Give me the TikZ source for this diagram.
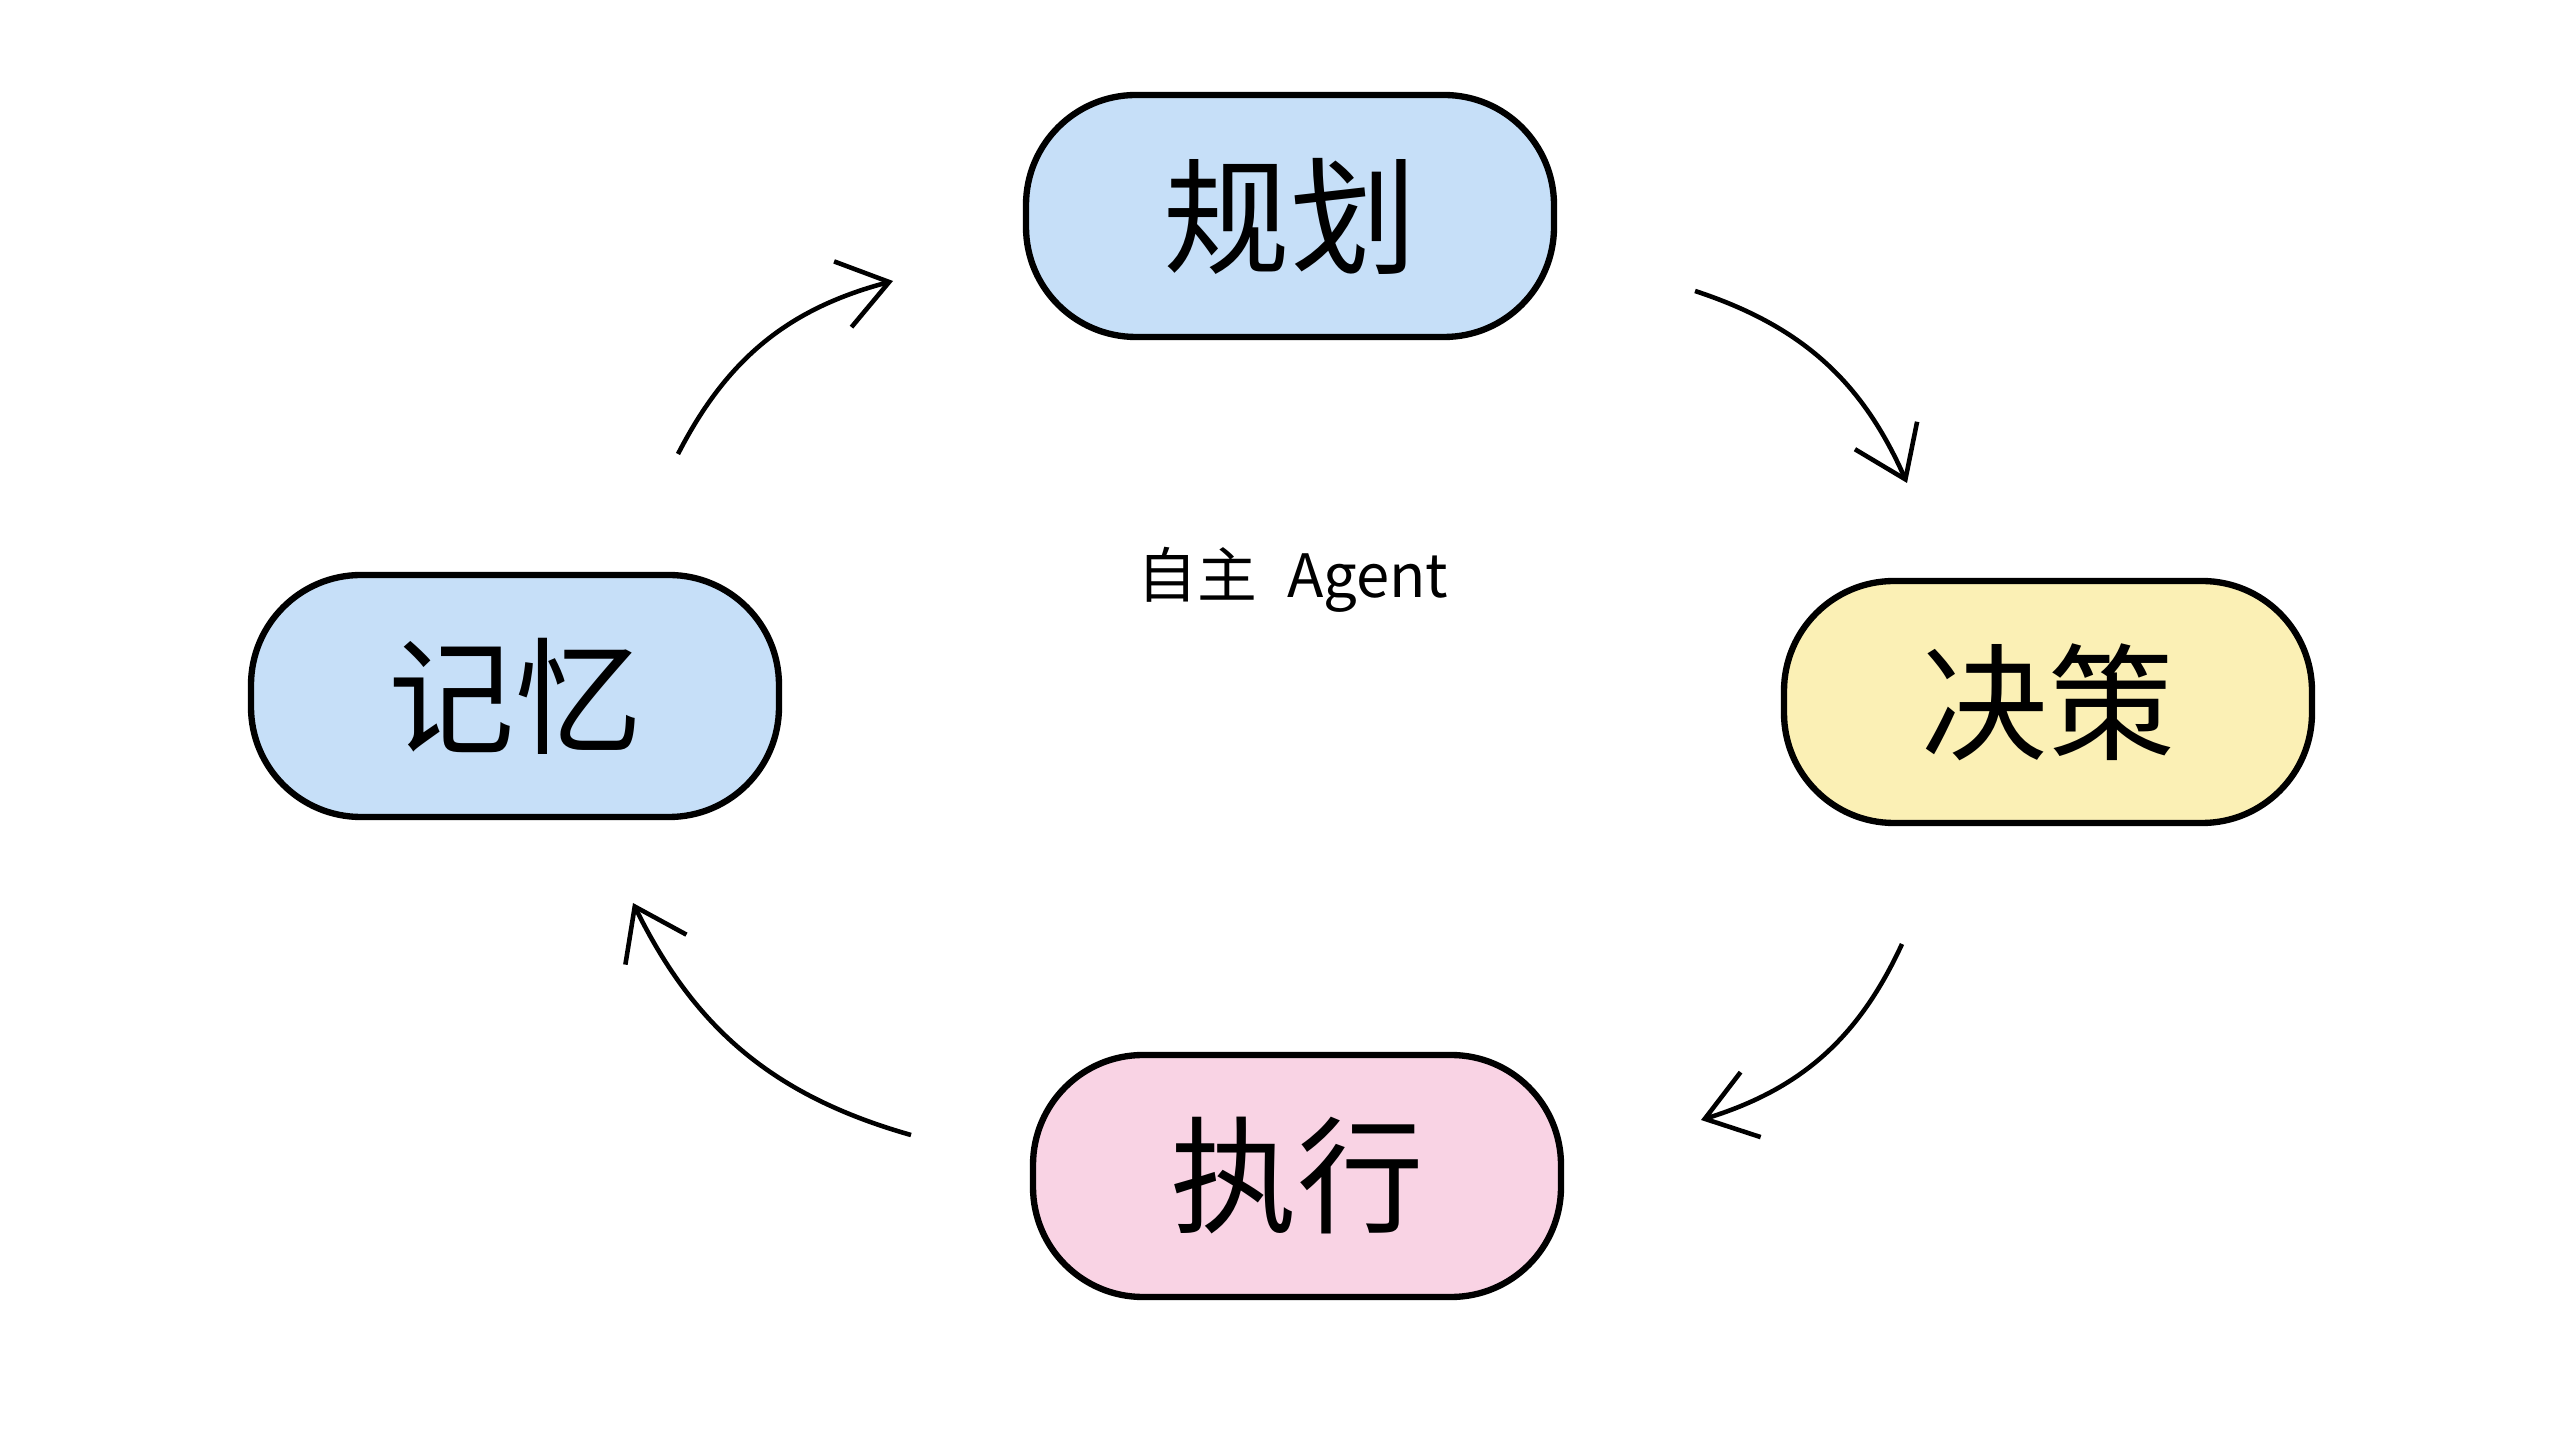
\documentclass[tikz,border=0pt]{standalone}
\usepackage{fontspec}
\setmainfont{Noto Sans CJK SC}
\usetikzlibrary{arrows.meta}

\definecolor{planblue}{HTML}{C6DFF8}
\definecolor{decideyellow}{HTML}{FBF0B5}
\definecolor{actpink}{HTML}{F9D3E4}

\tikzset{
  stage/.style={draw, line width=1.8pt, rounded corners=1.1cm,
    minimum width=5.28cm, minimum height=2.42cm,
    font=\fontsize{36}{40}\selectfont},
  cyclearrow/.style={-{Straight Barb[length=4.8mm,width=6.8mm]},
    line width=1.3pt, bend left=24},
}

\begin{document}
\begin{tikzpicture}
\path[fill=white] (0,0) rectangle (25.6,14.4);
\useasboundingbox (0,0) rectangle (25.6,14.4);

\node (plan) at (12.90, 12.24) [stage, fill=planblue] {规划};
\node (decide) at (20.48, 7.38) [stage, fill=decideyellow] {决策};
\node (act) at (12.97, 2.64) [stage, fill=actpink] {执行};
\node (memory) at (5.15, 7.44) [stage, fill=planblue] {记忆};
\node (agent) at (12.93, 8.60) [font=\fontsize{17}{20}\selectfont] {自主\hspace{0.5em}Agent};

% free ends of the cycle arrows
\coordinate (m2p-a) at (6.78, 9.86);
\coordinate (m2p-b) at (8.93, 11.59);
\coordinate (p2d-a) at (16.95, 11.49);
\coordinate (p2d-b) at (19.07, 9.57);
\coordinate (d2a-a) at (19.02, 4.96);
\coordinate (d2a-b) at (17.01, 3.20);
\coordinate (a2m-a) at (9.11, 3.05);
\coordinate (a2m-b) at (6.33, 5.37);

\draw[cyclearrow] (m2p-a) to (m2p-b);
\draw[cyclearrow] (p2d-a) to (p2d-b);
\draw[cyclearrow] (d2a-a) to (d2a-b);
\draw[cyclearrow] (a2m-a) to (a2m-b);
\end{tikzpicture}
\end{document}
